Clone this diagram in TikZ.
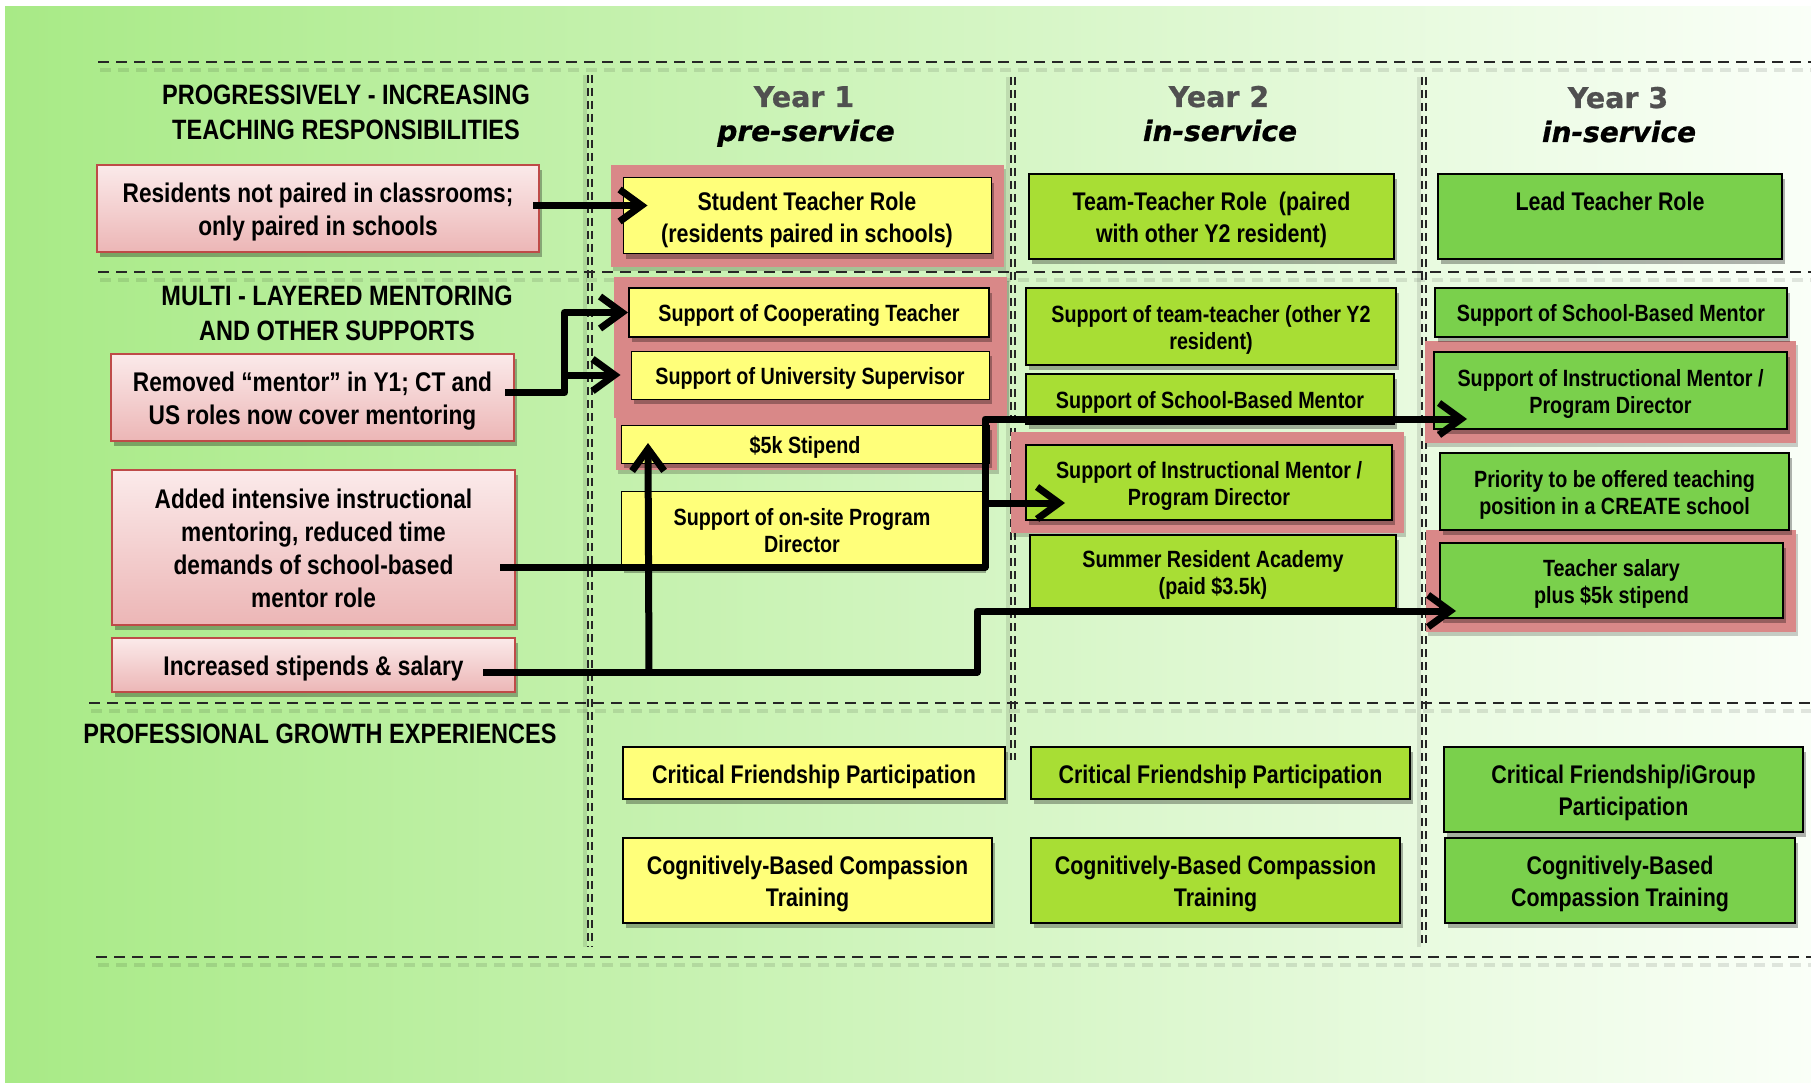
\documentclass[tikz,border=0pt]{standalone}
\usepackage{fontspec}
\usetikzlibrary{arrows.meta,shadows,calc}
\newfontfamily\nar{Liberation Sans}[FakeStretch=0.84]
\newfontfamily\hdr{DejaVu Sans}[FakeBold=0.8]
\definecolor{bgL}{RGB}{168,234,134}
\definecolor{bgM}{RGB}{207,243,186}
\definecolor{bgR}{RGB}{250,255,248}
\definecolor{yel}{RGB}{255,255,122}
\definecolor{lgr}{RGB}{168,222,52}
\definecolor{dgr}{RGB}{122,208,76}
\definecolor{pnk}{RGB}{217,136,136}
\definecolor{redB}{RGB}{190,75,72}
\definecolor{pkT}{RGB}{251,234,234}
\definecolor{pkB}{RGB}{236,182,182}
\definecolor{yrg}{RGB}{80,80,80}
\newcommand\fsA{\fontsize{25.5}{32}\selectfont}
\newcommand\fsB{\fontsize{23.5}{27}\selectfont}
\newcommand\fsC{\fontsize{27}{33}\selectfont}
\newcommand\fsH{\fontsize{28}{35}\selectfont}
% first-line strut with extra height (moves text down), last-line strut
\newcommand\tsu{\rule{0pt}{\dimexpr0.7\baselineskip+8pt\relax}}
\newcommand\tsd{\strut}
\begin{document}
\begin{tikzpicture}[x=1pt,y=-1pt,
  shd/.style={drop shadow={shadow xshift=3pt,shadow yshift=-5pt,opacity=0.3,fill=black}},
  bx/.style={draw=black,line width=2pt,inner sep=0pt,align=center,font=\nar\bfseries\fsA,shd},
  ybx/.style={bx,fill=yel},
  lbx/.style={bx,fill=lgr},
  dbx/.style={bx,fill=dgr},
  rbx/.style={draw=redB,line width=2pt,top color=pkT,bottom color=pkB,inner sep=0pt,align=center,font=\nar\bfseries\fsC,shd},
  pkf/.style={fill=pnk,draw=none,inner sep=0pt,drop shadow={shadow xshift=2pt,shadow yshift=-4pt,opacity=0.2,fill=black}},
  sec/.style={align=center,font=\nar\bfseries\fsH},
  yr/.style={anchor=base,font=\hdr\bfseries\fontsize{28.5}{34}\selectfont,text=yrg},
  svc/.style={anchor=base,font=\hdr\bfseries\itshape\fontsize{28}{34}\selectfont,text=black},
  hd/.style={line width=2.2pt,dash pattern=on 11pt off 7pt,black!85},
  hds/.style={line width=4pt,dash pattern=on 11pt off 7pt,black,opacity=0.1},
  vd/.style={line width=1.4pt,dash pattern=on 8pt off 5pt,black!85},
  arr/.style={line width=7pt,line join=round,-{Straight Barb[length=22pt,width=32pt]}}]
\useasboundingbox (0,0) rectangle (1811,1083);
\fill[white] (0,0) rectangle (1811,1083);
\shade[left color=bgL,middle color=bgM,right color=bgR] (5,7) rectangle (1811,1083);
% horizontal dashed lines
\foreach \yy/\xa in {62/98,272/98,703/89,957/96}{
  \draw[hds] (\xa+2,\yy+8) -- (1811,\yy+8);
  \draw[hd] (\xa,\yy) -- (1811,\yy);
}
% vertical dotted lines
\foreach \xx/\ya/\yb in {590/75/947,1013/77/760,1424/77/947}{
  \draw[line width=4pt,black,opacity=0.1] (\xx-5,\ya) -- (\xx-5,\yb);
  \draw[vd] (\xx-2,\ya) -- (\xx-2,\yb);
  \draw[vd] (\xx+2,\ya) -- (\xx+2,\yb);
}
% section headings
\node[sec] (h1) at (346,112.5) {PROGRESSIVELY - INCREASING\\TEACHING RESPONSIBILITIES};
\node[sec] (h2) at (337,313.5) {MULTI - LAYERED MENTORING\\AND OTHER SUPPORTS};
\node[sec] (h3) at (320,734) {PROFESSIONAL GROWTH EXPERIENCES};
% year headings
\node[yr] (y1) at (804,107) {Year 1};
\node[svc] (s1) at (806,141) {pre-service};
\node[yr] (y2) at (1219,107) {Year 2};
\node[svc] (s2) at (1220,141) {in-service};
\node[yr] (y3) at (1618,108) {Year 3};
\node[svc] (s3) at (1619,142) {in-service};
% red boxes
\node[rbx,minimum width=442pt,minimum height=87pt] (r1) at (318,208.5) {\tsu Residents not paired in classrooms;\\only paired in schools\tsd};
\node[rbx,minimum width=403pt,minimum height=87pt] (r2) at (312.5,397.5) {\tsu Removed “mentor” in Y1; CT and\\US roles now cover mentoring\tsd};
\node[rbx,minimum width=403pt,minimum height=155pt] (r3) at (313.5,547.5) {\tsu Added intensive instructional\\mentoring, reduced time\\demands of school-based\\mentor role\tsd};
\node[rbx,minimum width=403pt,minimum height=54pt] (r4) at (313.5,665) {\tsu Increased stipends \& salary\tsd};
% pink highlight frames
\node[pkf,minimum width=393pt,minimum height=102pt] (pk1) at (807.5,216) {};
\node[pkf,minimum width=393pt,minimum height=141pt] (pk2) at (810.5,347.5) {};
\node[pkf,minimum width=381pt,minimum height=52pt] (pk3) at (806.5,444) {};
\node[pkf,minimum width=393pt,minimum height=101pt] (pk4) at (1207.5,482.5) {};
\node[pkf,minimum width=371pt,minimum height=102pt] (pk5) at (1610.5,392) {};
\node[pkf,minimum width=370pt,minimum height=102pt] (pk6) at (1611,581) {};
% Year 1
\node[ybx,line width=1pt,minimum width=368pt,minimum height=76pt] (a1) at (807,216) {\tsu Student Teacher Role\\(residents paired in schools)\tsd};
\node[ybx,font=\nar\bfseries\fsB,minimum width=360pt,minimum height=49pt] (ct) at (809,312.5) {\tsu Support of Cooperating Teacher\tsd};
\node[ybx,line width=1pt,font=\nar\bfseries\fsB,minimum width=358pt,minimum height=48pt] (us) at (810,375) {\tsu Support of University Supervisor\tsd};
\node[ybx,line width=1pt,font=\nar\bfseries\fsB,minimum width=368pt,minimum height=38pt] (st) at (805,444) {\tsu \$5k Stipend\tsd};
\node[ybx,line width=1pt,font=\nar\bfseries\fsB,minimum width=362pt,minimum height=77pt] (os) at (802,529.5) {\tsu Support of on-site Program\\Director\tsd};
\node[ybx,minimum width=382pt,minimum height=52pt] (cf1) at (814,773) {\tsu Critical Friendship Participation\tsd};
\node[ybx,minimum width=369pt,minimum height=85pt] (cb1) at (807.5,880.5) {\tsu Cognitively-Based Compassion\\Training\tsd};
% Year 2
\node[lbx,minimum width=365pt,minimum height=85pt] (b1) at (1211.5,216.5) {\tsu Team-Teacher Role\ \ (paired\\with other Y2 resident)\tsd};
\node[lbx,font=\nar\bfseries\fsB,minimum width=370pt,minimum height=77pt] (b2) at (1211,326.5) {\tsu Support of team-teacher (other Y2\\resident)\tsd};
\node[lbx,font=\nar\bfseries\fsB,minimum width=368pt,minimum height=50pt] (b3) at (1210,399) {\tsu Support of School-Based Mentor\tsd};
\node[lbx,font=\nar\bfseries\fsB,minimum width=366pt,minimum height=75pt] (b4) at (1209,482.5) {\tsu Support of Instructional Mentor /\\Program Director\tsd};
\node[lbx,font=\nar\bfseries\fsB,minimum width=366pt,minimum height=73pt] (b5) at (1213,571.5) {\tsu Summer Resident Academy\\(paid \$3.5k)\tsd};
\node[lbx,minimum width=379pt,minimum height=52pt] (cf2) at (1220.5,773) {\tsu Critical Friendship Participation\tsd};
\node[lbx,minimum width=369pt,minimum height=85pt] (cb2) at (1215.5,880.5) {\tsu Cognitively-Based Compassion\\Training\tsd};
% Year 3
\node[dbx,minimum width=344pt,minimum height=85pt] (c1) at (1610,216.5) {\tsu Lead Teacher Role\\\tsd};
\node[dbx,font=\nar\bfseries\fsB,minimum width=352pt,minimum height=49pt] (c2) at (1611,312.5) {\tsu Support of School-Based Mentor\tsd};
\node[dbx,font=\nar\bfseries\fsB,minimum width=353pt,minimum height=77pt] (c3) at (1610.5,390.5) {\tsu Support of Instructional Mentor /\\Program Director\tsd};
\node[dbx,font=\nar\bfseries\fsB,minimum width=349pt,minimum height=77pt] (c4) at (1614.5,491.5) {\tsu Priority to be offered teaching\\position in a CREATE school\tsd};
\node[dbx,font=\nar\bfseries\fsB,minimum width=343pt,minimum height=75pt] (c5) at (1611.5,580.5) {\tsu Teacher salary\\plus \$5k stipend\tsd};
\node[dbx,minimum width=359pt,minimum height=85pt] (cf3) at (1623.5,789.5) {\tsu Critical Friendship/iGroup\\Participation\tsd};
\node[dbx,minimum width=350pt,minimum height=85pt] (cb3) at (1620,880.5) {\tsu Cognitively-Based\\Compassion Training\tsd};
% connectors
\coordinate (k3) at (985,419);
\coordinate (k4) at (977,611);
\draw[arr] ($(r1.east)+(-7,-3)$) -- ($(a1.west |- r1.east)+(25,-3)$);
\draw[arr] ($(r2.east)+(-10,-5)$) -| ($(us.west)+(-66,0)$) -- ($(us.west)+(-10,0)$);
\draw[arr] ($(us.west)+(-66,0)$) |- (ct.west);
\draw[arr] ($(r3.east)+(-16,19.5)$) -| (k3) -- ($(c3.west)+(34,28.5)$);
\draw[arr] ($(k3)+(0,84)$) -- ($(b4.west)+(40,20.5)$);
\draw[arr] ($(r4.east)+(-33,7)$) -| (k4) -- ($(c5.west)+(17,30.5)$);
\draw[arr] ($(r4.east)+(133,7)$) -- ($(st.center)+(-157,-1)$);
\end{tikzpicture}
\end{document}
